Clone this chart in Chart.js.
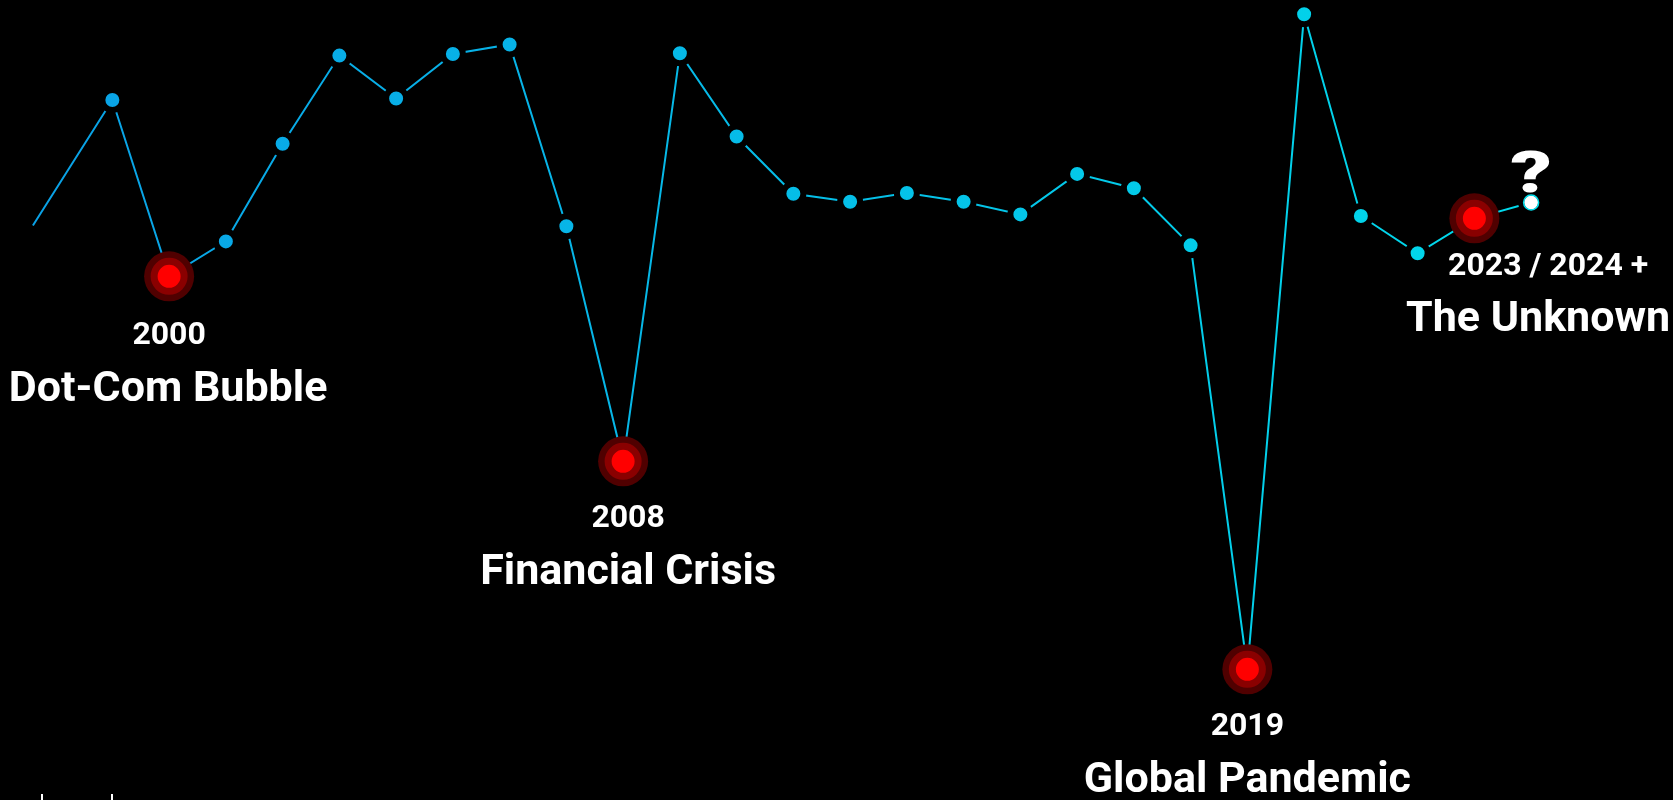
<!DOCTYPE html>
<html>
<head>
<meta charset="utf-8">
<title>Crises timeline</title>
<script src="https://cdn.jsdelivr.net/npm/chart.js@4.4.1/dist/chart.umd.min.js"></script>
<style>
  html, body { margin: 0; padding: 0; background: #000; overflow: hidden; }
  #wrap { width: 1673px; height: 800px; position: relative; }
</style>
</head>
<body>
<div id="wrap"><canvas id="crisisChart"></canvas></div>
<script>
// x = year, first entry is where the line comes in at the left edge
const years = [1997.6, 1999, 2000, 2001, 2002, 2003, 2004, 2005, 2006, 2007, 2008, 2009, 2010,
    2011, 2012, 2013, 2014, 2015, 2016, 2017, 2018, 2019, 2020, 2021, 2022, 2023, 2024];
const values = [71.6, 87.4, 65.2, 69.6, 81.9, 93.0, 87.6, 93.2, 94.4, 71.5, 41.9, 93.3, 82.8,
    75.6, 74.6, 75.7, 74.6, 73.0, 78.1, 76.3, 69.1, 15.7, 98.2, 72.8, 68.1, 72.5, 74.5];

// crisis markers (red glow) and their captions
const crisisIndex = [2, 10, 21, 25];
const captionIndex = [2, 10, 21, 26];
const captionYears = ["2000", "2008", "2019", "2023 / 2024 +"];
const captionNames = ["Dot-Com Bubble", "Financial Crisis", "Global Pandemic", "The Unknown"];
const futureIndex = 26;

// the two little marks at the bottom of the x axis
const axisTickYears = [1997.76, 1999];

// caption placement relative to the anchor point (px)
const captionOffsets = [
    { yearDx: 0, yearDy: 68, nameDx: -1, nameDy: 125 },
    { yearDx: 5, yearDy: 66, nameDx: 5, nameDy: 123 },
    { yearDx: 0, yearDy: 66, nameDx: 0, nameDy: 123 },
    { yearDx: 17, yearDy: 73, nameDx: 7, nameDy: 129 }
];

const points = years.map((x, i) => ({ x: x, y: values[i] }));
const crisisPoints = crisisIndex.map(i => points[i]);

let lineGradient = null;
function getGradient(chart) {
    const area = chart.chartArea;
    if (!area) return "#0ea5e9";
    if (!lineGradient) {
        lineGradient = chart.ctx.createLinearGradient(area.left, 0, area.right, 0);
        lineGradient.addColorStop(0, "#0aa0e6");
        lineGradient.addColorStop(0.5, "#05bfe8");
        lineGradient.addColorStop(1, "#00dfec");
    }
    return lineGradient;
}

// Draw the captions under the crisis points
const captionPlugin = {
    id: "captions",
    afterDatasetsDraw(chart) {
        const ctx = chart.ctx;
        const pts = chart.getDatasetMeta(2).data;
        ctx.save();
        ctx.fillStyle = "#ffffff";
        ctx.textAlign = "center";
        ctx.textBaseline = "alphabetic";
        captionIndex.forEach((idx, k) => {
            const p = pts[idx];
            const off = captionOffsets[k];
            ctx.font = "bold 32px Roboto";
            ctx.fillText(captionYears[k], p.x + off.yearDx, p.y + off.yearDy);
            ctx.font = "bold 43px Roboto";
            ctx.fillText(captionNames[k], p.x + off.nameDx, p.y + off.nameDy);
        });
        // big question mark over the last point
        const f = pts[futureIndex];
        ctx.translate(f.x, f.y - 10);
        ctx.scale(1.4, 1);
        ctx.font = "900 58px Roboto";
        ctx.fillText("?", 0, 0);
        ctx.restore();
    }
};

const chart = new Chart(document.getElementById("crisisChart"), {
    type: "line",
    data: {
        datasets: [
            {
                // outer glow
                data: crisisPoints,
                showLine: false,
                pointRadius: 25,
                pointBorderWidth: 0,
                pointBackgroundColor: "#500000",
                order: 1
            },
            {
                // core + middle ring
                data: crisisPoints,
                showLine: false,
                pointRadius: 15,
                pointBorderWidth: 7,
                pointBorderColor: "#8a0000",
                pointBackgroundColor: "#ff0000",
                order: 0
            },
            {
                data: points,
                borderColor: ctx => getGradient(ctx.chart),
                borderWidth: 2,
                tension: 0,
                pointRadius: ctx => (ctx.dataIndex === 0 || crisisIndex.includes(ctx.dataIndex)) ? 0 : 10,
                pointBorderWidth: 6,
                pointBorderColor: "#000",
                pointBackgroundColor: ctx => ctx.dataIndex === futureIndex ? "#ffffff" : getGradient(ctx.chart),
                order: 3
            },
            {
                // thin ring round the last (future) point
                data: [points[futureIndex]],
                showLine: false,
                pointRadius: 7.5,
                pointBorderWidth: 1.5,
                pointBorderColor: "#00e0ee",
                pointBackgroundColor: "rgba(0,0,0,0)",
                order: 2
            }
        ]
    },
    options: {
        responsive: true,
        maintainAspectRatio: false,
        animation: false,
        events: [],
        layout: { padding: 0, autoPadding: false },
        plugins: {
            legend: { display: false },
            tooltip: { enabled: false }
        },
        scales: {
            x: {
                type: "linear",
                min: 1997.02,
                max: 2026.5,
                afterBuildTicks: scale => {
                    scale.ticks = axisTickYears.map(v => ({ value: v }));
                },
                ticks: { display: false },
                border: { display: false },
                grid: {
                    drawOnChartArea: false,
                    drawTicks: true,
                    tickLength: 6,
                    color: "#ffffff",
                    lineWidth: 2
                }
            },
            y: {
                display: false,
                min: 0,
                max: 100
            }
        }
    },
    plugins: [captionPlugin]
});
</script>
</body>
</html>
